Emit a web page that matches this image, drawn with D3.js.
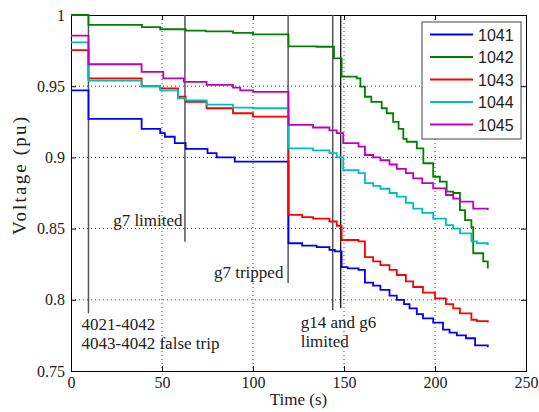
<!DOCTYPE html>
<html>
<head>
<meta charset="utf-8">
<script src="https://cdn.jsdelivr.net/npm/d3@7"></script>
<style>
body{margin:0;background:#fff;}
text{font-family:"Liberation Serif","Times New Roman",serif;}
</style>
</head>
<body>
<svg width="539" height="412"></svg>
<script>
// series names and colours (MATLAB default order)
var names = ["1041", "1042", "1043", "1044", "1045"];
var colors = ["#0000ff", "#008000", "#ff0000", "#00bfbf", "#bf00bf"];

// time (s) / voltage (pu) steps
var t1041 = [0, 9.6, 38.8, 49, 51.6, 57, 63, 75, 80, 90, 119.5, 127, 135, 142, 145, 148.7, 152, 158, 161.5, 166, 170, 175, 179, 183, 186, 190, 193.4, 199, 204.4, 208, 212, 217, 222, 229];
var v1041 = [0.947, 0.927, 0.920, 0.917, 0.9145, 0.910, 0.906, 0.903, 0.900, 0.897, 0.8397, 0.838, 0.837, 0.835, 0.834, 0.823, 0.822, 0.821, 0.812, 0.810, 0.807, 0.803, 0.800, 0.797, 0.794, 0.790, 0.787, 0.784, 0.779, 0.777, 0.775, 0.773, 0.768, 0.7666];

var t1042 = [0, 9.6, 39, 49, 63, 74, 89, 100, 119.5, 135, 144.5, 148.7, 157, 159, 161.5, 165, 170.7, 173.5, 177, 180, 182.6, 184.4, 190, 193.6, 199, 202.7, 206.4, 210, 213.7, 216.5, 220, 221, 226.5, 229];
var v1042 = [1.0, 0.993, 0.9915, 0.990, 0.989, 0.9885, 0.9875, 0.9864, 0.978, 0.9777, 0.9696, 0.9567, 0.9555, 0.9497, 0.9426, 0.939, 0.9345, 0.931, 0.925, 0.920, 0.913, 0.911, 0.9064, 0.8959, 0.8864, 0.883, 0.876, 0.875, 0.863, 0.856, 0.851, 0.8327, 0.827, 0.822];

var t1043 = [0, 9.6, 38.8, 49, 58.8, 63, 74.5, 89, 100, 119.5, 127, 133, 142, 146, 148.7, 158, 161.5, 166, 170, 175, 179, 184, 188, 193.4, 200, 206, 210, 213.7, 220, 223, 229];
var v1043 = [0.9754, 0.9555, 0.950, 0.9485, 0.9426, 0.939, 0.9345, 0.931, 0.9286, 0.8596, 0.858, 0.857, 0.855, 0.852, 0.842, 0.841, 0.830, 0.827, 0.8244, 0.821, 0.8174, 0.813, 0.809, 0.805, 0.801, 0.797, 0.794, 0.7905, 0.786, 0.785, 0.784];

var t1044 = [0, 9.6, 38.8, 49, 58.8, 63, 74.5, 89, 100, 119.5, 133, 142, 146, 149.6, 158, 161.5, 166, 170, 175, 179, 184, 188, 193, 199, 206, 210, 213.7, 220, 223, 229];
var v1044 = [0.9808, 0.954, 0.9497, 0.947, 0.9415, 0.940, 0.937, 0.935, 0.9345, 0.9064, 0.905, 0.903, 0.900, 0.891, 0.889, 0.882, 0.880, 0.878, 0.875, 0.8724, 0.868, 0.864, 0.861, 0.857, 0.8525, 0.850, 0.8467, 0.841, 0.8397, 0.8385];

var t1045 = [0, 9.6, 38.8, 50.7, 62, 74.5, 89, 93, 100, 119.5, 133, 142, 146, 149.6, 158, 161.5, 166, 170, 175, 179, 184, 188, 193, 199, 206, 210, 213.7, 221, 229];
var v1045 = [0.9855, 0.9654, 0.960, 0.9555, 0.953, 0.951, 0.949, 0.947, 0.946, 0.9228, 0.921, 0.919, 0.917, 0.910, 0.9075, 0.9017, 0.900, 0.898, 0.895, 0.892, 0.889, 0.8853, 0.882, 0.8783, 0.8736, 0.871, 0.869, 0.864, 0.863];

var times = [t1041, t1042, t1043, t1044, t1045];
var volts = [v1041, v1042, v1043, v1044, v1045];

var xTicks = [0, 50, 100, 150, 200, 250];
var yTicks = [0.75, 0.8, 0.85, 0.9, 0.95, 1];
var yTickLabels = ["0.75", "0.8", "0.85", "0.9", "0.95", "1"];

// event markers: time, bottom of the marker line (pu)
var eventTimes = [9.6, 62.6, 119.3, 143.8, 148.2];
var eventEnds = [0.7905, 0.8408, 0.8118, 0.7928, 0.794];
var eventLabels = [
	{t: 5.8, v: 0.7785, anchor: "start", lines: ["4021-4042", "4043-4042 false trip"]},
	{t: 61.3, v: 0.8518, anchor: "end", lines: ["g7 limited"]},
	{t: 116.7, v: 0.8153, anchor: "end", lines: ["g7 tripped"]},
	{t: 126.2, v: 0.7805, anchor: "start", lines: ["g14 and g6", "limited"]}
];

var margin = {left: 71, top: 15, right: 13, bottom: 41};
var width = 539 - margin.left - margin.right;
var height = 412 - margin.top - margin.bottom;

var svg = d3.select("svg");
var g = svg.append("g").attr("transform", "translate(" + margin.left + "," + margin.top + ")");

var x = d3.scaleLinear().domain([0, 250]).range([0, width]);
var y = d3.scaleLinear().domain([0.75, 1]).range([height, 0]);

// dotted grid
g.selectAll(".gx").data(xTicks.slice(1, -1)).enter().append("line")
	.attr("x1", function(d){return x(d)}).attr("x2", function(d){return x(d)})
	.attr("y1", 0).attr("y2", height)
	.style("stroke", "#444").style("stroke-dasharray", "1,3").style("stroke-width", 1);
g.selectAll(".gy").data(yTicks.slice(1, -1)).enter().append("line")
	.attr("y1", function(d){return y(d)}).attr("y2", function(d){return y(d)})
	.attr("x1", 0).attr("x2", width)
	.style("stroke", "#444").style("stroke-dasharray", "1,3").style("stroke-width", 1);

// axes, ticks pointing inward like matlab
var bottom = g.append("g").attr("transform", "translate(0," + height + ")")
	.call(d3.axisBottom(x).tickValues(xTicks).tickSize(-5).tickPadding(6));
var left = g.append("g")
	.call(d3.axisLeft(y).tickValues(yTicks).tickSize(-5).tickPadding(6)
		.tickFormat(function(d, i){return yTickLabels[i]}));
var top = g.append("g")
	.call(d3.axisTop(x).tickValues(xTicks).tickSize(-5).tickFormat(""));
var right = g.append("g").attr("transform", "translate(" + width + ",0)")
	.call(d3.axisRight(y).tickValues(yTicks).tickSize(-5).tickFormat(""));
g.selectAll(".domain").style("stroke", "#000");
g.selectAll(".tick line").style("stroke", "#000");
g.selectAll(".tick text").style("font-family", "'Liberation Serif', serif").style("font-size", "16px").style("fill", "#222");

// event marker lines
g.selectAll(".ev").data(eventTimes).enter().append("line")
	.attr("x1", function(d){return x(d)}).attr("x2", function(d){return x(d)})
	.attr("y1", 0).attr("y2", function(d, i){return y(eventEnds[i])})
	.style("stroke", function(d, i){return i == 4 ? "#000" : "#555"})
	.style("stroke-width", function(d, i){return i == 4 ? 1.2 : 1.5});

// voltage traces
var line = d3.line()
	.x(function(d){return x(d[0])})
	.y(function(d){return y(d[1])})
	.curve(d3.curveStepAfter);
for (var i = 0; i < names.length; i++){
	var pts = times[i].map(function(t, j){return [t, volts[i][j]]});
	g.append("path").datum(pts)
		.attr("d", line)
		.style("fill", "none")
		.style("stroke", colors[i])
		.style("stroke-width", 1.8);
}

// annotation text
eventLabels.forEach(function(e){
	var txt = g.append("text")
		.attr("x", x(e.t)).attr("y", y(e.v))
		.attr("text-anchor", e.anchor)
		.style("font-size", "17px").style("fill", "#222");
	e.lines.forEach(function(s, k){
		txt.append("tspan").attr("x", x(e.t)).attr("dy", k == 0 ? 0 : 19).text(s);
	});
});

// axis labels
svg.append("text")
	.attr("x", margin.left + x(125)).attr("y", 405)
	.attr("text-anchor", "middle")
	.style("font-size", "17px").style("fill", "#222")
	.text("Time (s)");
svg.append("text")
	.attr("transform", "translate(26,176) rotate(-90)")
	.attr("text-anchor", "middle")
	.attr("textLength", 118).attr("lengthAdjust", "spacing")
	.style("font-size", "19px").style("fill", "#222")
	.text("Voltage (pu)");

// legend
var lg = svg.append("g").attr("transform", "translate(422,22)");
lg.append("rect").attr("width", 99).attr("height", 117)
	.style("fill", "#fff").style("stroke", "#444").style("stroke-width", 1);
var rows = lg.selectAll(".row").data(names).enter().append("g")
	.attr("transform", function(d, i){return "translate(0," + (12.5 + i * 22.5) + ")"});
rows.append("line").attr("x1", 8).attr("x2", 51)
	.style("stroke", function(d, i){return colors[i]}).style("stroke-width", 1.8);
rows.append("text").attr("x", 56).attr("y", 6)
	.style("font-family", "'Liberation Sans', Arial, sans-serif")
	.style("font-size", "16px").style("fill", "#222")
	.text(function(d){return d});
</script>
</body>
</html>
